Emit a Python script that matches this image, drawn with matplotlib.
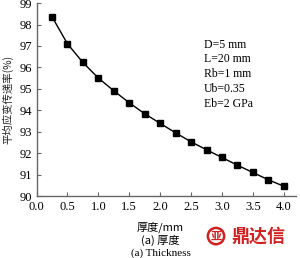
import matplotlib
matplotlib.use("Agg")
import matplotlib.pyplot as plt

# data
thickness = [0.25, 0.5, 0.75, 1.0, 1.25, 1.5, 1.75, 2.0,
             2.25, 2.5, 2.75, 3.0, 3.25, 3.5, 3.75, 4.0]
rate = [98.36, 97.10, 96.23, 95.50, 94.91, 94.35, 93.84, 93.39,
        92.95, 92.53, 92.16, 91.80, 91.44, 91.10, 90.76, 90.46]
xticks = [0.0, 0.5, 1.0, 1.5, 2.0, 2.5, 3.0, 3.5, 4.0]
yticks = [90, 91, 92, 93, 94, 95, 96, 97, 98, 99]
params = ["D=5 mm", "L=20 mm", "Rb=1 mm", "Ub=0.35", "Eb=2 GPa"]

serif = ["Liberation Serif", "Noto Sans CJK SC"]
cjk = ["Noto Sans CJK SC", "Liberation Serif"]
plt.rcParams["font.family"] = serif

fig = plt.figure(figsize=(3.0, 2.58), dpi=100)
ax = fig.add_axes([0.122, 0.24, 0.865, 0.748])

ax.plot(thickness, rate, color="black", lw=1.0, marker="s", ms=4.5)

ax.set_xlim(0, 4.2)
ax.set_ylim(90, 99)
ax.set_xticks(xticks)
ax.set_yticks(yticks)
ax.set_xticklabels([f"{t:.1f}" for t in xticks])
ax.tick_params(direction="in", length=3, width=0.8, color="#666666",
               labelsize=9)
ax.tick_params(axis="x", pad=3.5)
ax.tick_params(axis="y", pad=3)
for s in ["top", "right"]:
    ax.spines[s].set_visible(False)
for s in ["left", "bottom"]:
    ax.spines[s].set_color("#666666")
    ax.spines[s].set_linewidth(1.0)

ax.text(0.645, 0.815, "\n".join(params), transform=ax.transAxes,
        fontsize=8.5, va="top", ha="left", linespacing=1.3)

fig.text(0.027, 0.615, "平均应变传递率(%)", rotation=90, fontsize=7.5,
         ha="center", va="center", family=cjk, color="#222222")

fig.text(0.535, 0.118, "厚度/mm", fontsize=8, ha="center", va="center", family=cjk)
fig.text(0.535, 0.068, "(a) 厚度", fontsize=8, ha="center", va="center", family=cjk)
fig.text(0.535, 0.02, "(a) Thickness", fontsize=8, ha="center", va="center")

# watermark
fig.text(0.72, 0.085, "亚", fontsize=8, ha="center", va="center", family=cjk,
         color="#d22020", fontweight="bold",
         bbox=dict(boxstyle="circle,pad=0.15", fc="white", ec="#d22020", lw=1.8))
fig.text(0.86, 0.085, "鼎达信", fontsize=13, ha="center", va="center",
         family=cjk, color="#d22020", fontweight="bold")

fig.savefig("out.png", dpi=100)
